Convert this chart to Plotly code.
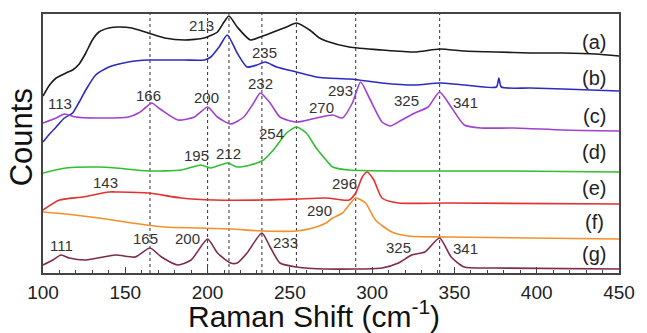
import plotly.graph_objects as go

# ---- data (Raman shift, cm-1 ; counts in arbitrary offset units) ----
a_x = [100, 104, 108, 114, 118, 122, 126, 130, 134, 140, 146, 154, 164, 174, 186, 198, 206, 210, 213, 218, 226, 232, 240, 248, 254, 262, 268, 272, 286, 306, 326, 341, 356, 376, 396, 416, 436, 450]
a_y = [177, 188, 195, 200, 203, 209, 220, 233, 241, 245, 246, 245, 240, 235, 233, 235, 241, 251, 257, 246, 233, 236, 241, 246, 250, 243, 235, 232, 226, 223, 221, 224, 222, 221, 220, 220, 219, 217]

b_x = [100, 104, 108, 113, 118, 122, 126, 132, 140, 152, 164, 174, 186, 198, 202, 207, 212, 218, 224, 230, 235, 242, 254, 266, 272, 286, 292, 306, 326, 341, 356, 375.5, 377, 378.5, 396, 416, 450]
b_y = [131, 139, 146, 155, 160, 171, 183, 198, 206, 211, 213, 213, 213, 213, 216, 226, 238, 220, 206, 208, 211, 206, 201, 196, 195, 194, 193, 190, 188, 190, 188, 186, 195, 186, 185, 184, 182]

c_x = [100, 108, 113, 120, 132, 152, 158, 162, 166, 172, 182, 192, 200, 206, 214, 222, 228, 232, 238, 244, 254, 266, 276, 282, 288, 293, 298, 306, 311, 318, 326, 334, 341, 348, 356, 366, 386, 416, 450]
c_y = [150, 155, 159, 156, 155, 156, 160, 165, 170, 163, 153, 156, 166, 156, 149, 156, 170, 180, 170, 156, 151, 155, 158, 155, 170, 191, 176, 151, 147, 153, 160, 166, 181, 166, 148, 145, 145, 143, 142]

d_x = [100, 114, 134, 144, 164, 184, 196, 202, 212, 218, 226, 234, 240, 248, 254, 260, 266, 272, 276, 286, 320, 380, 450]
d_y = [100, 105, 106, 105, 102, 103, 108, 105, 110, 106, 108, 113, 123, 140, 146, 140, 125, 113, 106, 103, 102, 102, 101]

e_x = [100, 110, 124, 140, 146, 164, 184, 204, 234, 254, 272, 286, 290, 294, 297, 301, 306, 316, 346, 450]
e_y = [63, 73, 76, 81, 81, 80, 75, 73, 73, 74, 75, 73, 80, 96, 101, 93, 75, 70, 70, 69]

f_x = [100, 114, 134, 154, 174, 194, 214, 234, 254, 264, 272, 276, 282, 290, 296, 302, 312, 322, 346, 450]
f_y = [61, 59, 55, 50, 46, 45, 44, 42, 42, 45, 50, 55, 60, 75, 70, 53, 41, 37, 36, 34]

g_x = [100, 106, 111, 116, 126, 144, 156, 165, 172, 182, 190, 200, 206, 214, 218, 224, 233, 238, 244, 254, 272, 306, 316, 324, 332, 341, 348, 356, 374, 450]
g_y = [8, 13, 18, 15, 13, 18, 16, 25, 16, 8, 13, 34, 20, 10, 10, 20, 40, 26, 10, 6, 4, 5, 10, 18, 21, 35, 16, 6, 5, 4]

series_names = ["(a)", "(b)", "(c)", "(d)", "(e)", "(f)", "(g)"]
series_label_y = [231, 195, 157, 121, 85, 51, 19]
series_colors = ["#1a1a1a", "#2b2bc4", "#a040d0", "#2fbf2f", "#e53030", "#f3902c", "#7e2a4e"]

guide_lines = [165, 200, 213, 233, 254, 290, 341]

peak_text = ["213", "235", "113", "166", "200", "232", "270", "293", "325", "341",
             "254", "195", "212", "143", "296", "290",
             "111", "165", "200", "233", "325", "341"]
peak_x = [196.5, 234.8, 110.2, 164.1, 199.5, 232.4, 269, 281, 320.9, 356.9,
          239, 193, 213, 137.7, 283, 268,
          111.2, 162.1, 187.7, 247.6, 315.9, 356.9]
peak_y = [248, 221, 170, 178, 176, 190, 166, 183, 173, 171,
          140, 118, 120, 91, 90, 63,
          28, 35, 35, 31, 26, 25]

xticks = [100, 150, 200, 250, 300, 350, 400, 450]

FONT = "Liberation Sans, Arial, sans-serif"

fig = go.Figure()
xs = [a_x, b_x, c_x, d_x, e_x, f_x, g_x]
ys = [a_y, b_y, c_y, d_y, e_y, f_y, g_y]
for x, y, c, n in zip(xs, ys, series_colors, series_names):
    fig.add_trace(go.Scatter(x=x, y=y, mode="lines", name=n,
                             line=dict(color=c, width=1.6, shape="spline", smoothing=0.6),
                             showlegend=False, hoverinfo="skip"))

for v in guide_lines:
    fig.add_shape(type="line", xref="x", yref="paper", x0=v, x1=v, y0=0, y1=1,
                  line=dict(color="#444444", width=1.1, dash="3px,3px"), layer="below")

for t, x, y in zip(peak_text, peak_x, peak_y):
    fig.add_annotation(x=x, y=y, xref="x", yref="y", text=t, showarrow=False,
                       font=dict(family=FONT, size=15, color="#333333"))

for n, y in zip(series_names, series_label_y):
    fig.add_annotation(x=435, y=y, xref="x", yref="y", text=n, showarrow=False,
                       font=dict(family=FONT, size=20, color="#222222"))

fig.add_annotation(xref="paper", yref="paper",
                   x=(318 - 43) / 584, y=(273 - 314) / 259,
                   xanchor="center", yanchor="middle",
                   text="Raman Shift (cm<sup>-1</sup>)",
                   showarrow=False, font=dict(family=FONT, size=30, color="#111111"))
fig.add_annotation(xref="paper", yref="paper", x=(21 - 43) / 584, y=(273 - 137) / 259,
                   text="Counts", textangle=-90, showarrow=False,
                   xanchor="center", yanchor="middle",
                   font=dict(family=FONT, size=31, color="#111111"))

fig.update_layout(
    width=647, height=333,
    margin=dict(l=43, r=20, t=14, b=60),
    paper_bgcolor="white", plot_bgcolor="white",
    font=dict(family=FONT, color="#222222"),
)

fig.update_xaxes(range=[100, 450], tickvals=xticks, ticks="inside", ticklen=6, tickwidth=1.3,
                 tickcolor="#444444", showline=True, linecolor="#444444", linewidth=1.5,
                 mirror=True, showgrid=False, zeroline=False, ticklabelstandoff=1,
                 tickfont=dict(family=FONT, size=19, color="#222222"),
                 minor=dict(dtick=10, ticks="inside", ticklen=3.5, tickcolor="#444444", showgrid=False))
fig.update_yaxes(range=[0, 259], showticklabels=False, ticks="", showline=True,
                 linecolor="#444444", linewidth=1.5, mirror=True, showgrid=False, zeroline=False)

fig.write_html("out.html")
